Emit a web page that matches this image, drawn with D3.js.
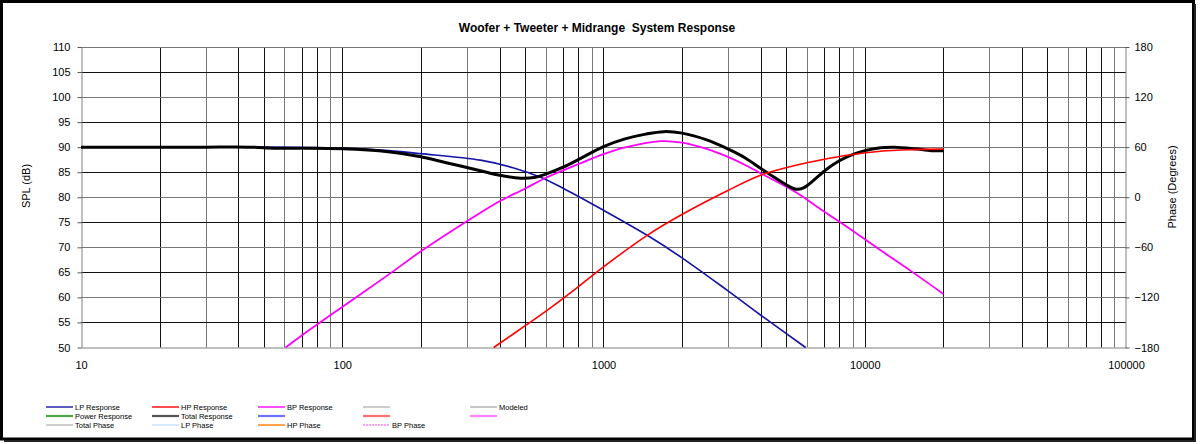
<!DOCTYPE html>
<html>
<head>
<meta charset="utf-8">
<script src="https://cdn.jsdelivr.net/npm/d3@7"></script>
<style>
  body { margin: 0; background: #fff; }
  text { font-family: "Liberation Sans", Arial, sans-serif; }
</style>
</head>
<body>
<svg id="chart" width="1200" height="444"></svg>
<script>
// values (Hz, dB)
var lpFreq = [10, 50, 80, 100, 150, 200, 338, 450, 574, 700, 1000, 1470, 1972, 2979, 3990, 5940];
var lpSpl  = [90, 90, 89.9, 89.8, 89.3, 88.7, 87.4, 85.9, 84.0, 81.8, 77.4, 72.4, 68.1, 61.4, 56.5, 50];

var hpFreq = [380, 500, 608, 800, 1000, 1470, 1972, 2979, 3990, 5450, 7000, 8590, 11500, 15000, 20000];
var hpSpl  = [50, 54.3, 57.4, 62.1, 66.1, 72.4, 76.4, 81.3, 84.4, 86.4, 87.6, 88.4, 89.2, 89.5, 89.6];

var bpFreq = [60.7, 70, 100, 150, 200, 338, 400, 500, 608, 800, 1000, 1200, 1650, 2000, 2500, 2979, 3500, 3990, 5450, 6780, 8590, 11500, 15000, 20000];
var bpSpl  = [50, 52.4, 58.1, 64.5, 69.2, 76.9, 79.2, 81.7, 84.0, 86.6, 88.6, 89.9, 91.2, 90.9, 89.6, 88.1, 86.4, 84.8, 81, 77.6, 74, 69.4, 65.3, 60.7];

var totFreq = [10, 20, 30, 44, 56, 70, 100, 150, 200, 250, 338, 400, 481, 550, 608, 700, 800, 1000, 1200, 1450, 1700, 2000, 2500, 2979, 3500, 3990, 4500, 5000, 5450, 5800, 6780, 7500, 8590, 10000, 11500, 13000, 15450, 18000, 20000];
var totSpl  = [90, 90, 90, 90, 89.8, 89.8, 89.7, 89.1, 88.1, 86.9, 85.3, 84.4, 83.8, 84.0, 84.7, 86.0, 87.5, 90.1, 91.6, 92.6, 93.1, 92.8, 91.4, 89.7, 87.8, 85.8, 84.0, 82.5, 81.6, 81.8, 84.6, 86.4, 88.1, 89.3, 89.9, 90.0, 89.7, 89.3, 89.3];

var xTickLabels = [10, 100, 1000, 10000, 100000];
var splTicks = [50, 55, 60, 65, 70, 75, 80, 85, 90, 95, 100, 105, 110];
var phaseTicks = [-180, -120, -60, 0, 60, 120, 180];

var legendRows = [
  ["LP Response", "HP Response", "BP Response", "", "Modeled"],
  ["Power Response", "Total Response", "", "", ""],
  ["Total Phase", "LP Phase", "HP Phase", "BP Phase"]
];
var legendColors = [
  ["#1515a6", "#ff0000", "#ff00ff", "#808080", "#707070"],
  ["#4aa84a", "#555555", "#7070ff", "#ff7070", "#ff80ff"],
  ["#808080", "#90c8ff", "#ff8000", "#ff80ff"]
];

var svg = d3.select("#chart");

var x = d3.scaleLog().domain([10, 100000]).range([81, 1126]);
var y = d3.scaleLinear().domain([50, 110]).range([347.5, 47]);
var yPhase = d3.scaleLinear().domain([-180, 180]).range([347.5, 47]);

// frame
svg.append("rect")
  .attr("x", 1.5).attr("y", 1.5).attr("width", 1192).attr("height", 437.5)
  .attr("fill", "#fff").attr("stroke", "#000").attr("stroke-width", 3);
svg.append("path")
  .attr("d", "M1195,4V441H4")
  .attr("fill", "none").attr("stroke", "#222").attr("stroke-width", 2);

// title
svg.append("text")
  .attr("x", 597).attr("y", 32)
  .attr("text-anchor", "middle")
  .style("font-size", "12px").style("font-weight", "bold")
  .style("white-space", "pre")
  .text("Woofer + Tweeter + Midrange  System Response");

// grid
var grid = svg.append("g");
grid.selectAll("line.v").data(x.ticks().filter(function(d){ return d > 10 && d < 100000; }))
  .enter().append("line")
  .attr("x1", function(d){ return Math.round(x(d)) + 0.5; })
  .attr("x2", function(d){ return Math.round(x(d)) + 0.5; })
  .attr("y1", y(110)).attr("y2", y(50))
  .attr("stroke", function(d, i){ return i % 3 == 1 ? "#777" : "#111"; })
  .attr("stroke-width", 1);
grid.selectAll("line.h").data(splTicks.filter(function(d){ return d > 50; }))
  .enter().append("line")
  .attr("x1", x(10)).attr("x2", x(100000))
  .attr("y1", function(d){ return Math.round(y(d)) + 0.5; })
  .attr("y2", function(d){ return Math.round(y(d)) + 0.5; })
  .attr("stroke", function(d){ return d % 10 == 0 ? "#777" : "#111"; })
  .attr("stroke-width", 1);

// axes
var axisStyle = function(g) {
  g.selectAll("text").style("font-size", "11px").attr("fill", "#000");
  g.selectAll("line").attr("stroke", "#555");
  g.select(".domain").attr("stroke", "#808080");
};

svg.append("g")
  .attr("transform", "translate(81.5,0)")
  .call(d3.axisLeft(y).tickValues(splTicks).tickSize(4).tickPadding(7).tickSizeOuter(0))
  .call(axisStyle);

svg.append("g")
  .attr("transform", "translate(1125.5,0)")
  .call(d3.axisRight(yPhase).tickValues(phaseTicks).tickSize(4).tickPadding(5).tickSizeOuter(0))
  .call(axisStyle);

svg.append("g")
  .attr("transform", "translate(0,347.5)")
  .call(d3.axisBottom(x).tickValues(xTickLabels).tickFormat(d3.format("d")).tickSize(0).tickPadding(14).tickSizeOuter(0))
  .call(axisStyle);

svg.append("text")
  .attr("transform", "translate(30,186) rotate(-90)")
  .attr("text-anchor", "middle")
  .style("font-size", "11px")
  .text("SPL (dB)");

svg.append("text")
  .attr("transform", "translate(1176,187) rotate(-90)")
  .attr("text-anchor", "middle")
  .style("font-size", "11px")
  .text("Phase (Degrees)");

// curves
var line = d3.line()
  .x(function(d){ return x(d[0]); })
  .y(function(d){ return y(d[1]); })
  .curve(d3.curveCatmullRom.alpha(0.5));

var drawSeries = function(freq, spl, color, width) {
  svg.append("path")
    .datum(d3.zip(freq, spl))
    .attr("d", line)
    .attr("fill", "none")
    .attr("stroke", color)
    .attr("stroke-width", width)
    .attr("stroke-linejoin", "round");
};

drawSeries(lpFreq, lpSpl, "#1515a6", 1.7);
drawSeries(bpFreq, bpSpl, "#ff00ff", 1.8);
drawSeries(totFreq, totSpl, "#000", 3);
drawSeries(hpFreq, hpSpl, "#ff0000", 1.6);

// legend
var colX = [46, 152, 258, 363, 470];
var rowY = [407, 416, 425];
var leg = svg.append("g");
legendRows.forEach(function(row, r) {
  row.forEach(function(name, c) {
    var col = legendColors[r][c];
    var thick = (r == 1) ? 2.2 : (col == "#808080" || col == "#707070" || col == "#90c8ff" ? 0.8 : 1.4);
    var lx = colX[c];
    leg.append("line")
      .attr("x1", lx).attr("x2", lx + 27)
      .attr("y1", rowY[r]).attr("y2", rowY[r])
      .attr("stroke", col)
      .attr("stroke-width", thick)
      .attr("stroke-dasharray", (r == 2 && c == 3) ? "2,1" : null);
    if (name) {
      leg.append("text")
        .attr("x", lx + 29).attr("y", rowY[r] + 2.7)
        .style("font-size", "7.5px")
        .text(name);
    }
  });
});
</script>
</body>
</html>
